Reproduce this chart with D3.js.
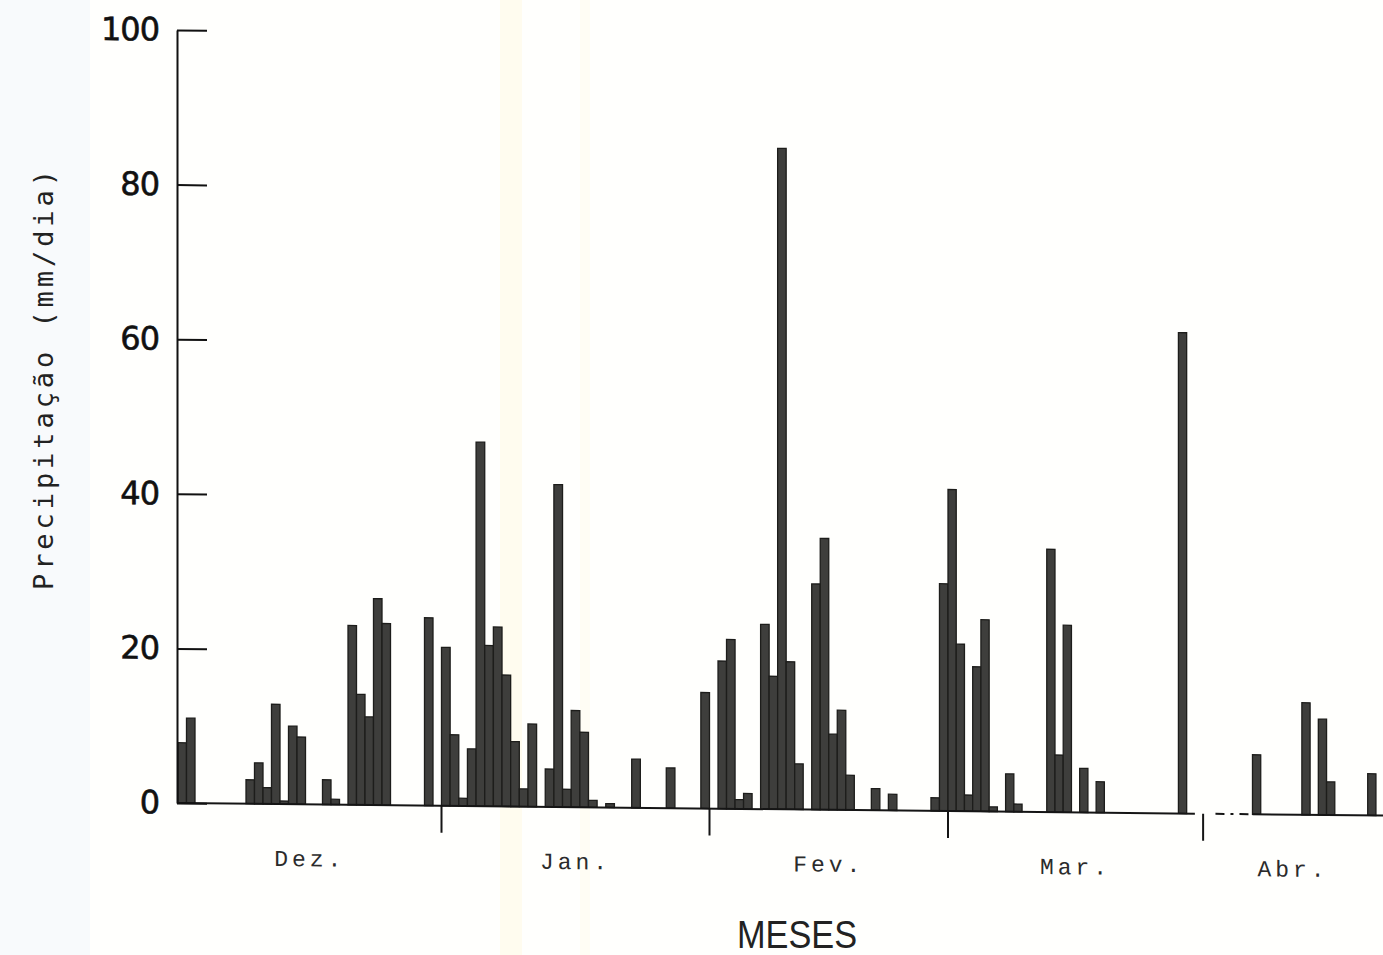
<!DOCTYPE html>
<html>
<head>
<meta charset="utf-8">
<script src="https://cdn.jsdelivr.net/npm/d3@7"></script>
<style>
  html, body { margin: 0; padding: 0; background: #ffffff; }
  svg { display: block; }
</style>
</head>
<body>
<svg id="chart" width="1383" height="955"></svg>
<script>
// Daily precipitation (mm/dia), one value per calendar day; 0 = dry day.
const dezembro = [7.8, 11.0, 0, 0, 0, 0, 0, 0, 3.1, 5.3, 2.1, 12.9, 0.4, 10.1, 8.7, 0,
                  0, 3.2, 0.7, 0, 23.2, 14.3, 11.4, 26.7, 23.5, 0, 0, 0, 0, 24.3, 0];
const janeiro  = [20.5, 9.2, 1.0, 7.4, 47.1, 20.8, 23.2, 17.0, 8.4, 2.3, 10.7, 0, 4.9, 41.7, 2.3, 12.5,
                  9.7, 0.9, 0, 0.5, 0, 0, 6.3, 0, 0, 0, 5.2, 0, 0, 0, 15.0];
const fevereiro = [0, 19.1, 21.9, 1.2, 2.0, 0, 23.9, 17.2, 85.5, 19.1, 5.9, 0, 29.2, 35.1, 9.8, 12.9,
                   4.5, 0, 0, 2.8, 0, 2.1, 0, 0, 0, 0, 1.7, 29.4];
const marco    = [41.6, 21.6, 2.1, 18.7, 24.8, 0.6, 0, 4.9, 1.0, 0, 0, 0, 34.0, 7.4, 24.2, 0,
                  5.7, 0, 4.0, 0, 0, 0, 0, 0, 0, 0, 0, 0, 62.2, 0, 0];
const abril    = [0, 0, 0, 0, 0, 0, 7.7, 0, 0, 0, 0, 0, 14.5, 0, 12.4, 4.3,
                  0, 0, 0, 0, 5.4, 0];

// Months, their lengths and the y-axis ticks.
const meses = ["Dez.", "Jan.", "Fev.", "Mar.", "Abr."];
const diasNoMes = [31, 31, 28, 31, 30];
const yTicks = [0, 20, 40, 60, 80, 100];

const series = [dezembro, janeiro, fevereiro, marco, abril];

// ---------------------------------------------------------------- layout
const W = 1383, H = 955;
const svg = d3.select("#chart");

// faint paper tones
svg.append("rect").attr("x", 0).attr("y", 0).attr("width", W).attr("height", H).attr("fill", "#fffffd");
svg.append("rect").attr("x", 0).attr("y", 0).attr("width", 90).attr("height", H).attr("fill", "#f8fafc");
svg.append("rect").attr("x", 500).attr("y", 0).attr("width", 22).attr("height", H).attr("fill", "#fffcef");
svg.append("rect").attr("x", 580).attr("y", 0).attr("width", 10).attr("height", H).attr("fill", "#fffdf4");

// day index of the first day of each month (0 = 1 Dec)
const monthStart = [0, ...Array.from(d3.cumsum(diasNoMes))];   // 0,31,62,90,121,151

const x = d3.scaleLinear()
  .domain([monthStart[0], monthStart[1], monthStart[2], monthStart[3], monthStart[5]])
  .range([178, 441.5, 709.5, 948, 1450]);
const y = d3.scaleLinear().domain([0, 100]).range([803, 30]);

const visibleEnd = x.invert(W);

// The whole plot sits on a slightly sloping baseline.
const plot = svg.append("g")
  .attr("transform", `translate(${x(0)},${y(0)}) skewY(0.6) translate(${-x(0)},${-y(0)})`);

// ---------------------------------------------------------------- bars
const days = [];
series.forEach((vals, m) => vals.forEach((v, i) => days.push({ d: monthStart[m] + i, v })));

plot.append("g").selectAll("rect")
  .data(days.filter(e => e.v > 0))
  .join("rect")
  .attr("x", e => x(e.d))
  .attr("width", e => x(e.d + 1) - x(e.d))
  .attr("y", e => y(e.v))
  .attr("height", e => y(0) - y(e.v))
  .attr("fill", "#3e3e3c")
  .attr("stroke", "#1d1d1b")
  .attr("stroke-width", 1.3);

// ---------------------------------------------------------------- baseline
const base = plot.append("g").attr("stroke", "#151515").attr("stroke-width", 2).attr("fill", "none");
base.append("line")
  .attr("x1", x(0)).attr("x2", x(monthStart[4] - 1))
  .attr("y1", y(0)).attr("y2", y(0));
base.append("line")
  .attr("x1", x(monthStart[4] + 1.5)).attr("x2", x(monthStart[4] + 6))
  .attr("y1", y(0)).attr("y2", y(0))
  .attr("stroke-dasharray", "9,6,3,6");
base.append("line")
  .attr("x1", x(monthStart[4] + 6)).attr("x2", W + 10)
  .attr("y1", y(0)).attr("y2", y(0));

// month boundary ticks (below the baseline)
plot.append("g").selectAll("line")
  .data(monthStart.slice(1, 5))
  .join("line")
  .attr("x1", d => x(d)).attr("x2", d => x(d))
  .attr("y1", y(0)).attr("y2", y(0) + 27)
  .attr("stroke", "#151515").attr("stroke-width", 2);

// month labels
plot.append("g").selectAll("text")
  .data(meses)
  .join("text")
  .attr("x", (m, i) => x((monthStart[i] + Math.min(monthStart[i + 1], visibleEnd)) / 2))
  .attr("y", y(0) + 62)
  .attr("text-anchor", "middle")
  .attr("font-family", "'Liberation Mono', 'DejaVu Sans Mono', monospace")
  .attr("font-size", 23)
  .attr("letter-spacing", 4)
  .attr("fill", "#2b2b2b")
  .text(m => m);

// ---------------------------------------------------------------- y axis
const yAxis = d3.axisLeft(y)
  .tickValues(yTicks)
  .tickSize(-30)
  .tickSizeOuter(0)
  .tickPadding(18)
  .tickFormat(d3.format("d"));

const gy = plot.append("g")
  .attr("transform", `translate(${x(0) - 1},0)`)
  .call(yAxis);
gy.select(".domain").attr("stroke", "#111").attr("stroke-width", 2);
gy.selectAll(".tick line").attr("stroke", "#111").attr("stroke-width", 2);
gy.selectAll(".tick text")
  .attr("font-family", "'DejaVu Sans', sans-serif")
  .attr("font-size", 32)
  .attr("letter-spacing", -1)
  .attr("fill", "#111")
  .attr("stroke", "#111")
  .attr("stroke-width", 0.6);

// ---------------------------------------------------------------- titles
svg.append("text")
  .attr("transform", "translate(53,380) rotate(-90)")
  .attr("text-anchor", "middle")
  .attr("font-family", "'DejaVu Sans Mono', monospace")
  .attr("font-size", 27)
  .attr("fill", "#222")
  .attr("textLength", 420)
  .attr("lengthAdjust", "spacing")
  .text("Precipitação (mm/dia)");

svg.append("text")
  .attr("x", 797)
  .attr("y", 948)
  .attr("text-anchor", "middle")
  .attr("font-family", "'Liberation Sans', Arial, sans-serif")
  .attr("font-size", 38)
  .attr("fill", "#222")
  .attr("textLength", 120)
  .attr("lengthAdjust", "spacingAndGlyphs")
  .text("MESES");
</script>
</body>
</html>
